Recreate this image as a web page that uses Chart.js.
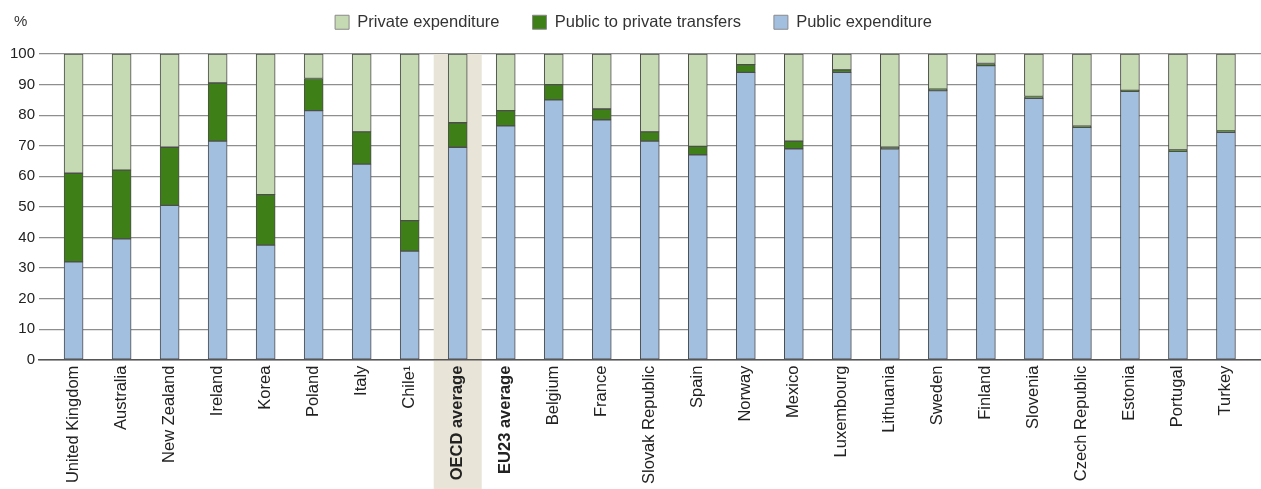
<!DOCTYPE html>
<html>
<head>
<meta charset="utf-8">
<script src="https://cdn.jsdelivr.net/npm/chart.js@4/dist/chart.umd.min.js"></script>
<style>
    body { margin: 0; background: #fff; }
    .chart-box { position: relative; width: 1261px; height: 489px; }
    .unit { position: absolute; left: 14px; top: 12px; font: 15px 'Liberation Sans', Arial, sans-serif; color: #333; }
</style>
</head>
<body>
<div class="chart-box">
    <canvas id="expenditureChart"></canvas>
    <div class="unit">%</div>
</div>
<script>
const countries = ['United Kingdom', 'Australia', 'New Zealand', 'Ireland', 'Korea', 'Poland', 'Italy', 'Chile¹',
    'OECD average', 'EU23 average', 'Belgium', 'France', 'Slovak Republic', 'Spain', 'Norway', 'Mexico',
    'Luxembourg', 'Lithuania', 'Sweden', 'Finland', 'Slovenia', 'Czech Republic', 'Estonia', 'Portugal', 'Turkey'];
const boldLabels = ['OECD average', 'EU23 average'];
const shadedLabel = 'OECD average';

const publicExpenditure = [32, 39.5, 50.5, 71.5, 37.5, 81.5, 64, 35.5, 69.5, 76.5, 85, 78.5, 71.5, 67, 94, 69,
    94, 69, 88, 96.2, 85.5, 76, 87.8, 68.2, 74.4];
const publicToPrivate = [29, 22.5, 19, 19, 16.5, 10.5, 10.5, 10, 8, 5, 5, 3.5, 3, 2.8, 2.5, 2.5,
    0.8, 0.5, 0.5, 0.7, 0.6, 0.4, 0.3, 0.4, 0.4];
const privateExpenditure = [39, 38, 30.5, 9.5, 46, 8, 25.5, 54.5, 22.5, 18.5, 10, 18, 25.5, 30.2, 3.5, 28.5,
    5.2, 30.5, 11.5, 3.1, 13.9, 23.6, 11.9, 31.4, 25.2];
const yTicks = [0, 10, 20, 30, 40, 50, 60, 70, 80, 90, 100];

document.addEventListener('DOMContentLoaded', function () {

    Chart.defaults.font.family = "'Liberation Sans', Arial, sans-serif";
    Chart.defaults.color = '#333';

    const toPoints = (values) => values.map((v, i) => ({ x: i, y: v }));

    // Faixa bege atrás da média OCDE
    const bandPlugin = {
        id: 'oecdBand',
        beforeDatasetsDraw(chart) {
            const { ctx, chartArea, scales: { x } } = chart;
            const idx = countries.indexOf(shadedLabel);
            const half = (x.getPixelForValue(1) - x.getPixelForValue(0)) / 2;
            ctx.save();
            ctx.fillStyle = '#e8e4d7';
            ctx.fillRect(x.getPixelForValue(idx) - half, chartArea.top, half * 2, chart.height - chartArea.top);
            ctx.restore();
        }
    };

    // Espaço extra entre a legenda e o gráfico
    const legendGap = {
        id: 'legendGap',
        beforeLayout(chart) {
            const legend = chart.legend;
            if (legend && !legend._gapPatched) {
                const fit = legend.fit;
                legend.fit = function () {
                    fit.call(this);
                    this.height += 13.5;
                };
                legend._gapPatched = true;
            }
        }
    };

    const ctx = document.getElementById('expenditureChart');
    if (ctx) {
        new Chart(ctx, {
            type: 'bar',
            data: {
                datasets: [{
                    label: 'Public expenditure',
                    data: toPoints(publicExpenditure),
                    backgroundColor: '#a3bfe0',
                }, {
                    label: 'Public to private transfers',
                    data: toPoints(publicToPrivate),
                    backgroundColor: '#3f7f18',
                }, {
                    label: 'Private expenditure',
                    data: toPoints(privateExpenditure),
                    backgroundColor: '#c5d9b2',
                }]
            },
            options: {
                responsive: true,
                maintainAspectRatio: false,
                animation: false,
                layout: { padding: { top: -19, left: 6, right: 0, bottom: -1 } },
                datasets: {
                    bar: {
                        barThickness: 19,
                        borderWidth: 1,
                        borderColor: '#4d4d4d',
                        borderSkipped: false,
                    }
                },
                scales: {
                    x: {
                        type: 'linear',
                        stacked: true,
                        offset: false,
                        min: -0.72,
                        max: 24.73,
                        grid: { display: false, drawTicks: false },
                        border: { display: true, color: '#555', width: 1.5, z: 1 },
                        ticks: {
                            z: 1,
                            stepSize: 1,
                            autoSkip: false,
                            includeBounds: false,
                            minRotation: 90,
                            maxRotation: 90,
                            padding: 6,
                            color: '#222',
                            font: (c) => ({
                                size: 16.5,
                                weight: c.tick && boldLabels.includes(countries[c.tick.value]) ? 'bold' : 'normal'
                            }),
                            callback: (value) => countries[value] ?? ''
                        }
                    },
                    y: {
                        stacked: true,
                        min: 0,
                        max: 100,
                        afterBuildTicks: (axis) => { axis.ticks = yTicks.map(v => ({ value: v })); },
                        grid: { color: '#8e8e8e', lineWidth: 1.2, drawTicks: false },
                        border: { display: false },
                        ticks: { padding: 4, color: '#222', font: { size: 15 } }
                    }
                },
                plugins: {
                    legend: {
                        position: 'top',
                        reverse: true,
                        labels: {
                            boxWidth: 14,
                            boxHeight: 14,
                            padding: 33,
                            color: '#333',
                            font: { size: 16.5 },
                            generateLabels: (chart) => Chart.defaults.plugins.legend.labels.generateLabels(chart)
                                .map(item => ({ ...item, strokeStyle: '#8a8a8a', lineWidth: 1 }))
                        }
                    },
                    tooltip: {
                        callbacks: { title: (items) => countries[items[0].parsed.x] }
                    }
                }
            },
            plugins: [bandPlugin, legendGap]
        });
    }

});
</script>
</body>
</html>
